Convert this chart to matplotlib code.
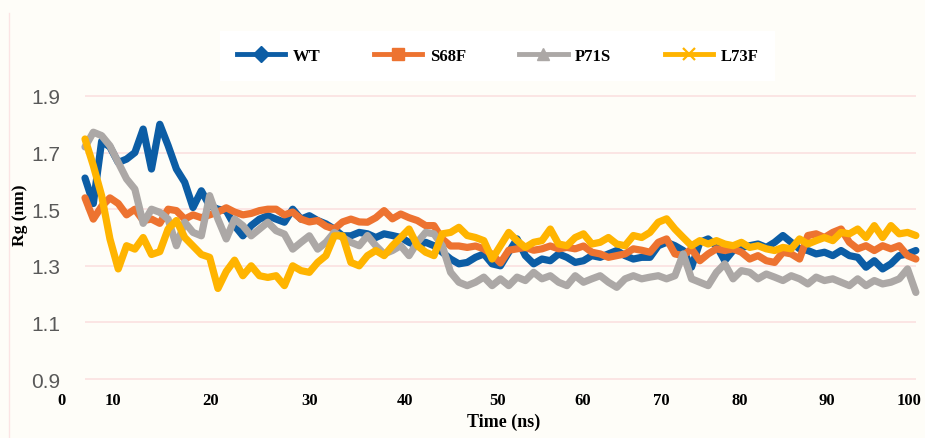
import numpy as np
import matplotlib
matplotlib.use("Agg")
import matplotlib.pyplot as plt
from matplotlib.lines import Line2D

# ---------------- data ----------------
time_ns = np.arange(0, 101)

wt = [1.61, 1.52, 1.74, 1.72, 1.665, 1.677, 1.70, 1.783, 1.642, 1.80,
      1.725, 1.642, 1.595, 1.506, 1.565, 1.512, 1.50, 1.495, 1.442, 1.406,
      1.442, 1.465, 1.477, 1.465, 1.454, 1.50, 1.465, 1.477, 1.46, 1.448,
      1.43, 1.406, 1.406, 1.418,
      1.413, 1.40, 1.413, 1.407, 1.40, 1.383,
      1.371, 1.383, 1.371, 1.348, 1.324, 1.307, 1.312, 1.33, 1.342, 1.307,
      1.30, 1.348, 1.395, 1.336, 1.307, 1.324, 1.318, 1.342, 1.33, 1.312,
      1.318, 1.336, 1.33, 1.342, 1.354, 1.336, 1.324, 1.33,
      1.33, 1.371, 1.383, 1.371, 1.354, 1.295, 1.383, 1.395, 1.371, 1.318, 1.354, 1.365,
      1.371, 1.377, 1.365, 1.383, 1.407, 1.383, 1.36, 1.354, 1.342, 1.348,
      1.336, 1.354, 1.336, 1.33, 1.295, 1.318, 1.289, 1.307, 1.336, 1.342, 1.354]

s68f = [1.54, 1.465, 1.51, 1.54, 1.52, 1.48, 1.50, 1.46, 1.465, 1.45,
        1.50, 1.495, 1.465, 1.48, 1.47, 1.48, 1.49, 1.505, 1.49, 1.48,
        1.485, 1.495, 1.50, 1.50, 1.48, 1.49, 1.465, 1.455, 1.46, 1.44,
        1.43, 1.455, 1.465, 1.455,
        1.454, 1.47, 1.495, 1.466, 1.483, 1.47,
        1.46, 1.442, 1.442, 1.395, 1.37, 1.37, 1.365, 1.37, 1.36, 1.34,
        1.31, 1.355, 1.36, 1.365, 1.355, 1.36, 1.37, 1.36, 1.365, 1.36,
        1.37, 1.348, 1.342, 1.33, 1.336, 1.342, 1.36, 1.355,
        1.348, 1.383, 1.395, 1.342, 1.336, 1.36, 1.318, 1.342, 1.36, 1.354, 1.36, 1.348,
        1.324, 1.336, 1.318, 1.312, 1.348, 1.342, 1.324, 1.407, 1.413, 1.40,
        1.418, 1.43, 1.383, 1.36, 1.371, 1.354, 1.371, 1.36, 1.371, 1.336, 1.324]

p71s = [1.72, 1.772, 1.76, 1.724, 1.665, 1.607, 1.571, 1.45, 1.50, 1.489,
        1.465, 1.371, 1.454, 1.418, 1.406, 1.548, 1.465, 1.395, 1.465, 1.442,
        1.406, 1.43, 1.454, 1.424, 1.412, 1.359, 1.383, 1.406, 1.359, 1.383,
        1.418, 1.40, 1.383, 1.371,
        1.407, 1.371, 1.342, 1.354, 1.371, 1.336,
        1.383, 1.418, 1.413, 1.371, 1.277, 1.242, 1.23, 1.242, 1.26, 1.23,
        1.254, 1.23, 1.26, 1.248, 1.277, 1.254, 1.265, 1.242, 1.23, 1.265,
        1.242, 1.254, 1.265, 1.242, 1.224, 1.254, 1.265, 1.254,
        1.26, 1.265, 1.254, 1.265, 1.342, 1.254, 1.242, 1.23, 1.277, 1.307, 1.254, 1.283,
        1.277, 1.254, 1.271, 1.26, 1.248, 1.265, 1.254, 1.236, 1.26, 1.248,
        1.254, 1.242, 1.23, 1.254, 1.23, 1.248, 1.236, 1.242, 1.254, 1.289, 1.206]

l73f = [1.748, 1.654, 1.548, 1.395, 1.289, 1.371, 1.359, 1.40, 1.34, 1.35,
        1.43, 1.46, 1.40, 1.37, 1.34, 1.33, 1.22, 1.28, 1.32, 1.265,
        1.30, 1.265, 1.259, 1.265, 1.23, 1.30, 1.283, 1.277, 1.312, 1.336,
        1.406, 1.406, 1.312, 1.30,
        1.336, 1.354, 1.336, 1.371, 1.40, 1.43,
        1.371, 1.348, 1.336, 1.413, 1.418, 1.436, 1.407, 1.40, 1.389, 1.324,
        1.371, 1.418, 1.389, 1.365, 1.383, 1.389, 1.43, 1.377, 1.371, 1.40,
        1.413, 1.377, 1.383, 1.40, 1.377, 1.371, 1.407, 1.40,
        1.418, 1.454, 1.466, 1.43, 1.40, 1.371, 1.389, 1.377, 1.389, 1.377, 1.371, 1.383,
        1.365, 1.371, 1.36, 1.354, 1.365, 1.36, 1.395, 1.377, 1.389, 1.40,
        1.389, 1.418, 1.413, 1.43, 1.40, 1.442, 1.40, 1.442, 1.413, 1.418, 1.407]

series_names = ["WT", "S68F", "P71S", "L73F"]
series_values = [wt, s68f, p71s, l73f]

y_ticks = [0.9, 1.1, 1.3, 1.5, 1.7, 1.9]
y_tick_labels = ["0.9", "1.1", "1.3", "1.5", "1.7", "1.9"]
x_tick_labels = ["0", "10", "20", "30", "40", "50", "60", "70", "80", "90", "100"]

# ---------------- style ----------------
colors = ["#0c5da5", "#ed7330", "#aca8a6", "#ffb400"]
markers = ["D", "s", "^", "x"]
bg = "#fefdf8"
serif = ["Liberation Serif", "DejaVu Serif"]
sans = ["Liberation Sans", "DejaVu Sans"]
# label positions as drawn in the reference (axis units)
x_tick_pos = [-2.8, 3.4, 15.1, 27.0, 38.5, 49.6, 59.9, 69.4, 78.8, 89.3, 99.2]

fig = plt.figure(figsize=(9.25, 4.39), dpi=100, facecolor=bg)
ax = fig.add_axes([0.0434, 0.1214, 0.9512, 0.6706])
ax.set_facecolor("none")
ax.set_xlim(-5.4, 100.5)
ax.set_ylim(0.88, 1.92)
for s in ax.spines.values():
    s.set_visible(False)

ax.hlines(y_ticks, time_ns[0], time_ns[-1], color="#fbdede", lw=1.1, zorder=0)

for vals, c in zip(series_values, colors):
    ax.plot(time_ns, vals, color=c, lw=5.2, solid_joinstyle="round",
            solid_capstyle="round", zorder=2)

ax.set_yticks(y_ticks, labels=y_tick_labels)
ax.tick_params(axis="y", length=0, pad=-14.4, labelcolor="#595959", labelsize=15)
for t in ax.get_yticklabels():
    t.set_family(sans)

ax.set_xticks(x_tick_pos, labels=x_tick_labels)
ax.tick_params(axis="x", length=0, pad=5, labelsize=12)
for t in ax.get_xticklabels():
    t.set_family(serif)
    t.set_fontweight("bold")

fig.text(504 / 925, 1 - 422 / 439, "Time (ns)", ha="center", va="center",
         family=serif, fontweight="bold", fontsize=13)
fig.text(20 / 925, 1 - 215 / 439, "Rg (nm)", ha="center", va="center",
         rotation=90, family=serif, fontweight="bold", fontsize=12.5)

# faint left border of the chart area
fig.add_artist(Line2D([9 / 925, 9 / 925], [0, 1 - 14 / 439], color="#fbe4e4", lw=1))

handles = [Line2D([], [], color=c, lw=3.5, marker=m, markersize=8 if m != "x" else 9,
                  markeredgewidth=1.6 if m == "x" else 1, markeredgecolor=c,
                  markerfacecolor=c)
           for c, m in zip(colors, markers)]
leg = fig.legend(handles, series_names, loc="center", bbox_to_anchor=(0.538, 1 - 57 / 439),
                 ncol=4, frameon=True, facecolor="white", edgecolor="none",
                 framealpha=1, fancybox=False, handlelength=2.9, handletextpad=0.45,
                 columnspacing=3.2, borderpad=1.0,
                 prop={"family": serif, "weight": "bold", "size": 12})

fig.savefig("out.png", dpi=100, facecolor=bg)
